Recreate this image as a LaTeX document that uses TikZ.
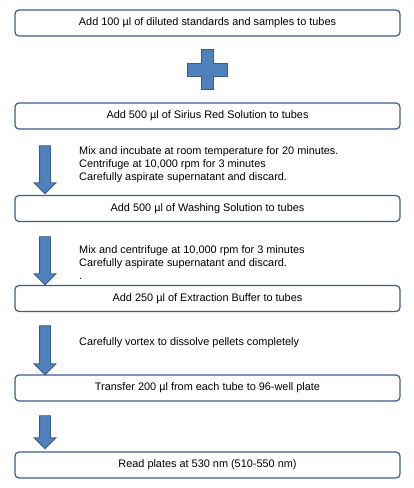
\documentclass[tikz,border=0pt]{standalone}
\usepackage{fontspec}
\setmainfont{Liberation Sans}
\usetikzlibrary{shapes.arrows}
\definecolor{frame}{HTML}{385D8A}
\definecolor{fillblue}{HTML}{4F81BD}
\definecolor{edge}{HTML}{385D8A}

\begin{document}
\begin{tikzpicture}[x=1pt,y=-1pt,font=\fontsize{10.9}{13}\selectfont,
  stepbox/.style={draw=frame,line width=1.2pt,rounded corners=4pt,minimum width=385pt,minimum height=26pt,align=center,inner sep=0pt},
  downarrow/.style={single arrow,fill=fillblue,draw=edge,line width=0.8pt,shape border rotate=270,inner sep=5pt,single arrow head extend=5.5pt,single arrow head indent=0pt,minimum height=#1},
  note/.style={anchor=west,align=left,inner sep=0pt}]
  \useasboundingbox (0,0) rectangle (414,488);
  \node[stepbox] (add100) at (207.5,23) {Add 100 µl of diluted standards and samples to tubes};
  \node[stepbox] (sirius) at (207.5,116) {Add 500 µl of Sirius Red Solution to tubes};
  \node[stepbox] (wash) at (207.5,208.5) {Add 500 µl of Washing Solution to tubes};
  \node[stepbox] (extract) at (207.5,298.5) {Add 250 µl of Extraction Buffer to tubes};
  \node[stepbox] (transfer) at (207.5,388) {Transfer 200 µl from each tube to 96-well plate};
  \node[stepbox] (read) at (207.5,465) {Read plates at 530 nm (510-550 nm)};
  % plus sign
  \fill[fillblue,draw=edge,line width=0.8pt] (201.5,49)--(213.5,49)--(213.5,63)--(227.5,63)--(227.5,76)--(213.5,76)--(213.5,89)--(201.5,89)--(201.5,76)--(187.5,76)--(187.5,63)--(201.5,63)--cycle;
  % arrows
  \node[downarrow=48pt] (arrA) at (45,167) {};
  \node[downarrow=48pt] (arrB) at (45,258) {};
  \node[downarrow=49pt] (arrC) at (45,347.5) {};
  \node[downarrow=33pt] (arrD) at (45,429.5) {};
  % notes
  \node[note] (noteA) at (79,165) {Mix and incubate at room temperature for 20 minutes.\\Centrifuge at 10,000 rpm for 3 minutes\\Carefully aspirate supernatant and discard.};
  \node[note] (noteB) at (79,263) {Mix and centrifuge at 10,000 rpm for 3 minutes\\Carefully aspirate supernatant and discard.\\.};
  \node[note] (noteC) at (79,343) {Carefully vortex to dissolve pellets completely};
\end{tikzpicture}
\end{document}
